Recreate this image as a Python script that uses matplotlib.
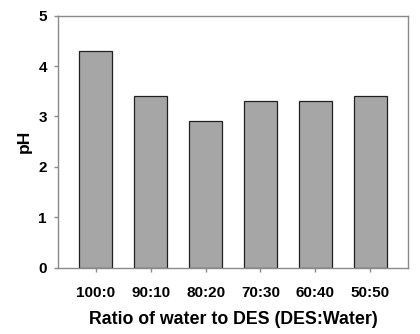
import matplotlib
matplotlib.use("Agg")
import matplotlib.pyplot as plt

categories = ["100:0", "90:10", "80:20", "70:30", "60:40", "50:50"]
ph_values = [4.3, 3.4, 2.9, 3.3, 3.3, 3.4]
yticks = [0, 1, 2, 3, 4, 5]

plt.rcParams['font.family'] = ['Liberation Sans', 'DejaVu Sans']
plt.rcParams['font.weight'] = 'bold'

fig = plt.figure(figsize=(4.2, 3.34), dpi=100)
ax = fig.add_axes([58/420, 1-267.5/334, 350/420, (267.5-15.7)/334])

x = list(range(len(categories)))
ax.bar(x, ph_values, width=0.6, color="#a6a6a6", edgecolor="#202020", linewidth=0.9, zorder=2)

ax.set_xlim(-0.69, 5.69)
ax.set_ylim(0, 5)
ax.set_xticks(x)
ax.set_xticklabels(categories, fontsize=11, fontweight='bold')
ax.set_yticks(yticks)
ax.set_yticklabels([str(t) for t in yticks], fontsize=11, fontweight='bold')
for s in ax.spines.values():
    s.set_color("#8a8a8a")
    s.set_linewidth(1.0)
ax.tick_params(axis='both', colors="#8a8a8a", length=3, width=1.0, labelcolor="black")
ax.tick_params(axis='x', pad=10)
ax.tick_params(axis='y', pad=5)
ax.set_xlabel("Ratio of water to DES (DES:Water)", fontsize=12.8, fontweight='bold', labelpad=8)
ax.set_ylabel("pH", fontsize=12.5, fontweight='bold', labelpad=5)

fig.savefig("out.png", dpi=100)
